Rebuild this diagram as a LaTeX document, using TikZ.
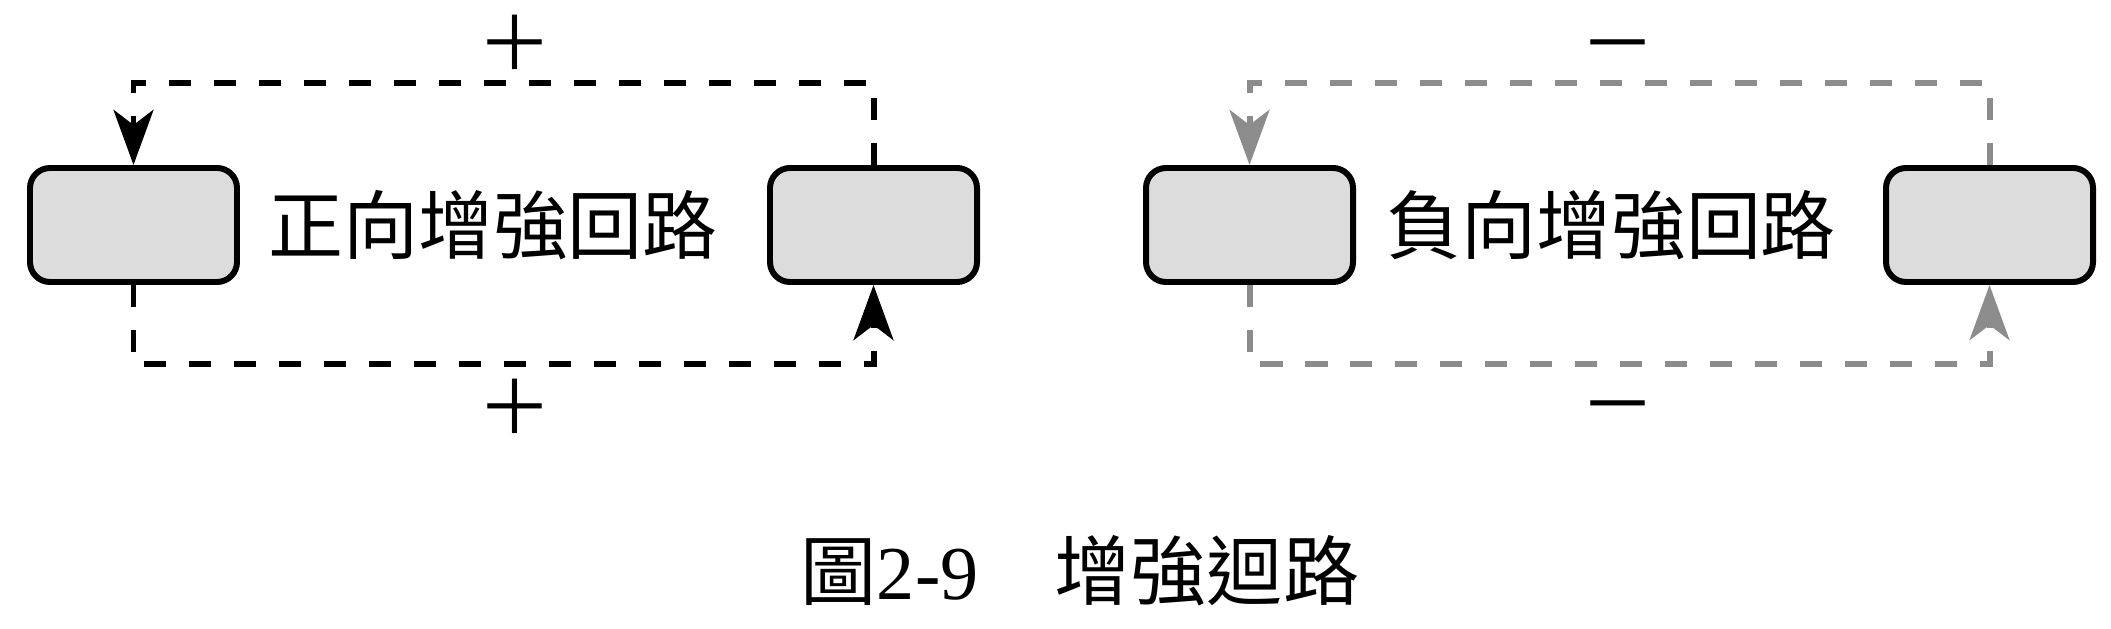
\documentclass[tikz,border=0pt]{standalone}
\usepackage{fontspec}
\setmainfont{Liberation Serif}
\newfontfamily\cjk{Noto Sans CJK TC}
\usetikzlibrary{arrows.meta}
\definecolor{boxfill}{RGB}{220,220,220}
\definecolor{loopgray}{RGB}{140,140,140}
\tikzset{
  varbox/.style={draw=black, line width=5.1pt, fill=boxfill, rounded corners=0.6cm,
    minimum width=6.21cm, minimum height=3.42cm, inner sep=0pt},
  looplabel/.style={font=\cjk\fontsize{64}{70}\selectfont, inner sep=0pt},
  signlabel/.style={font=\cjk\fontsize{64}{70}\selectfont, inner sep=0pt,
    text height=0.82em, text depth=0.06em},
  captionlabel/.style={font=\fontsize{65}{70}\selectfont, inner sep=0pt},
  loopline/.style={line width=5.1pt, dash pattern=on 18.8pt off 19.6pt,
    -{Stealth[length=47pt, width=34pt, inset=12.8pt]}},
  posloop/.style={loopline, draw=black},
  negloop/.style={loopline, draw=loopgray, color=loopgray}
}
\begin{document}
\begin{tikzpicture}[x=0.03cm, y=-0.03cm]
\useasboundingbox (0,0) rectangle (2111,629);
% positive loop
\node[varbox] (A) at (133.5,225) {};
\node[varbox] (B) at (873.5,225) {};
\node[looplabel] (L1) at (493,225) {正向增強回路};
\coordinate (t1) at (501,83);
\coordinate (b1) at (501,364);
\draw[posloop] (B.north) |- (t1) -| (A.north);
\draw[posloop] (A.south) |- (b1) -| (B.south);
\node[signlabel] (p1) at (515,66) {＋};
\node[signlabel] (p2) at (515,430) {＋};
% negative loop
\node[varbox] (C) at (1249.5,225) {};
\node[varbox] (D) at (1989.5,225) {};
\node[looplabel] (L2) at (1611,225) {負向增強回路};
\coordinate (t2) at (1617,83);
\coordinate (b2) at (1617,364);
\draw[negloop] (D.north) |- (t2) -| (C.north);
\draw[negloop] (C.south) |- (b2) -| (D.south);
\node[signlabel] (m1) at (1618,66) {－};
\node[signlabel] (m2) at (1618,427) {－};
% caption
\node[captionlabel] (cap) at (1080,571) {{\cjk 圖}2-9{\cjk 　增強迴路}};
\end{tikzpicture}
\end{document}
